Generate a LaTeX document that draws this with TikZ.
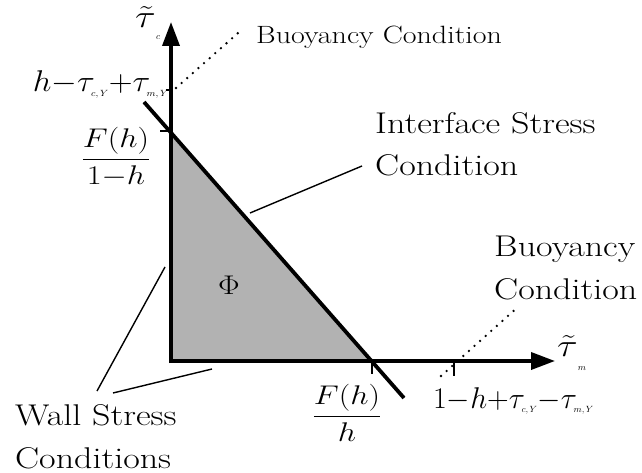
\RequirePackage{fix-cm}
\documentclass[tikz,border=0pt]{standalone}
\usepackage{amsmath}
\usetikzlibrary{arrows.meta}
\newcommand{\ssub}[1]{_{\mbox{\fontsize{9}{9}\selectfont$#1$}}}
\newcommand{\wide}[1]{\scalebox{1.2}[1]{#1}}
\newcommand{\wider}[1]{\scalebox{1.1}[1]{#1}}
\begin{document}
\begin{tikzpicture}[x=1pt,y=-1pt,
  axis/.style={line width=3.6pt,-{Triangle[length=24pt,width=17pt]}},
  iface/.style={line width=3.8pt},
  leader/.style={line width=1.4pt},
  tick/.style={line width=1.2pt},
  dots/.style={line width=2.6pt,line cap=round,dash pattern=on 0pt off 7.5pt},
  region/.style={fill=black!30},
  lbl/.style={inner sep=0pt,font=\fontsize{30}{43}\selectfont,align=left},
  lblsmall/.style={inner sep=0pt,font=\fontsize{25}{30}\selectfont},
  mth/.style={inner sep=0pt,font=\fontsize{30}{34}\selectfont},
  frc/.style={inner sep=0pt,font=\fontsize{27}{30}\selectfont},
  axl/.style={inner sep=0pt,font=\fontsize{32}{34}\selectfont},
  sub/.style={inner sep=0pt,font=\fontsize{9}{9}\selectfont}]
\useasboundingbox (0,0) rectangle (642,473);
% points
\coordinate (O) at (171,361);
\coordinate (Ybot) at (171,363);
\coordinate (Ytip) at (171,22);
\coordinate (Xleft) at (169,361);
\coordinate (Xtip) at (555,361);
\coordinate (A) at (171,131);
\coordinate (B) at (372,361);
\coordinate (I1) at (144,102);
\coordinate (I2) at (404,398);
% region
\fill[region] (O) -- (A) -- (B) -- cycle;
\node[frc] (phi) at (229,285) {\wide{$\Phi$}};
% interface line
\draw[iface] (I1) -- (I2);
% axes
\draw[axis] (Ybot) -- (Ytip);
\draw[axis] (Xleft) -- (Xtip);
% ticks
\coordinate (tA1) at (160,131);
\coordinate (tH1) at (166,90);
\coordinate (tH2) at (171,90);
\coordinate (tB2) at (372,374);
\coordinate (tX1) at (454,361);
\coordinate (tX2) at (454,376);
\draw[tick] (tA1) -- (A);
\draw[tick] (tH1) -- (tH2);
\draw[tick] (B) -- (tB2);
\draw[tick] (tX1) -- (tX2);
% axis labels
\node[axl,anchor=base west] (tc) at (135,28) {\wide{$\tilde{\tau}$}};
\node[sub] (tcs) at (158,38) {$c$};
\node[axl,anchor=base west] (tm) at (557,356) {\wide{$\tilde{\tau}$}};
\node[sub] (tms) at (582,369) {$m$};
% value labels
\node[mth,anchor=base east] (hval) at (169,92) {\wider{$h{-}\tau\ssub{c,Y}{+}\tau\ssub{m,Y}$}};
\node[frc] (fa) at (116,157) {\wide{$\dfrac{F(h)}{1{-}h}$}};
\node[frc] (fb) at (347,413) {\wide{$\dfrac{F(h)}{h}$}};
\node[mth,anchor=base west] (xval) at (433,408) {$1{-}h{+}\tau\ssub{c,Y}{-}\tau\ssub{m,Y}$};
% text labels
\node[lblsmall,anchor=base west] (buoy1) at (256,44) {\wide{Buoyancy Condition}};
\node[lbl,anchor=base west] (iface) at (375,176) {\wide{Interface Stress}\\\wide{Condition}};
\node[lbl,anchor=base west] (buoy2) at (494,299) {\wide{Buoyancy}\\\wide{Condition}};
\node[lbl,anchor=base west] (wall) at (15,468) {\wide{Wall Stress}\\\wide{Conditions}};
% leaders
\coordinate (d1a) at (176,88);
\coordinate (d1b) at (238,33);
\draw[dots] (d1a) -- (d1b);
\coordinate (d2a) at (441,376);
\coordinate (d2b) at (519,306);
\draw[dots] (d2a) -- (d2b);
\coordinate (l1a) at (250,213);
\coordinate (l1b) at (362,166);
\draw[leader] (l1a) -- (l1b);
\coordinate (w1a) at (97,391);
\coordinate (w1b) at (165,267);
\draw[leader] (w1a) -- (w1b);
\coordinate (w2a) at (113,393);
\coordinate (w2b) at (212,369);
\draw[leader] (w2a) -- (w2b);
\end{tikzpicture}
\end{document}
